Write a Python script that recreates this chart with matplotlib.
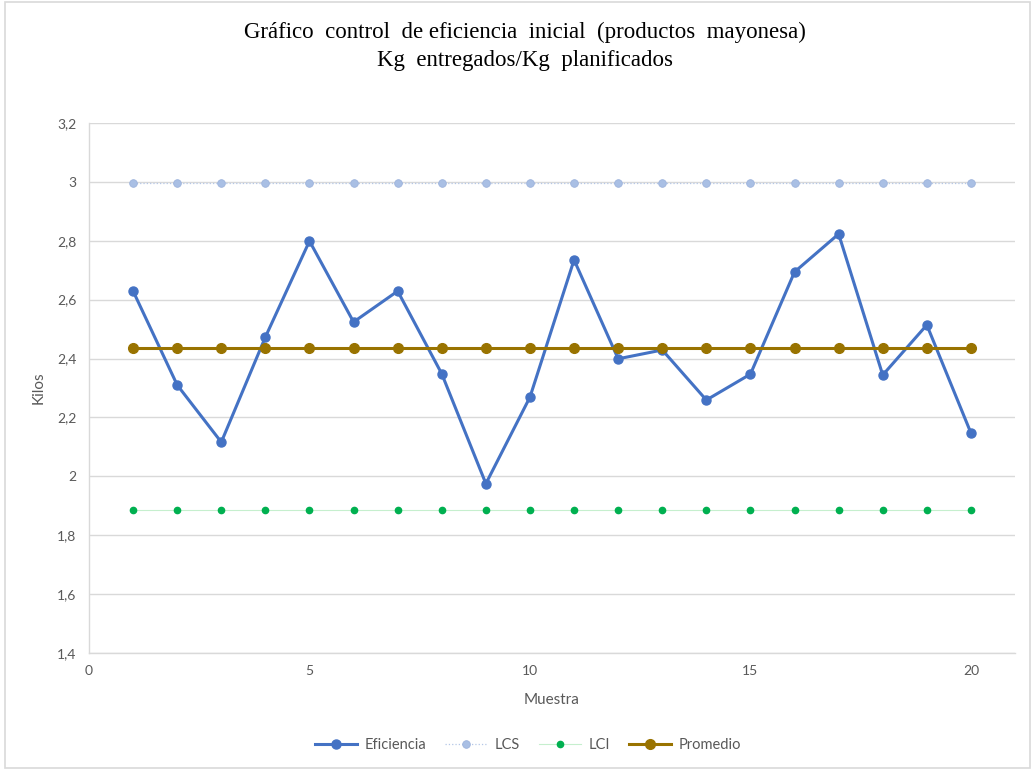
import matplotlib.pyplot as plt
from matplotlib.patches import Rectangle

# Sample numbers and measured efficiency (kg delivered / kg planned)
muestra = list(range(1, 21))
eficiencia = [2.629, 2.310, 2.116, 2.473, 2.799, 2.524, 2.629, 2.348, 1.975, 2.269,
              2.735, 2.399, 2.429, 2.259, 2.347, 2.694, 2.823, 2.344, 2.514, 2.147]
lcs_valor = 2.996
lci_valor = 1.886
promedio_valor = 2.437

lcs = [lcs_valor] * len(muestra)
lci = [lci_valor] * len(muestra)
promedio = [promedio_valor] * len(muestra)

y_ticks = [1.4, 1.6, 1.8, 2.0, 2.2, 2.4, 2.6, 2.8, 3.0, 3.2]
y_tick_labels = ["1,4", "1,6", "1,8", "2", "2,2", "2,4", "2,6", "2,8", "3", "3,2"]
x_ticks = [0, 5, 10, 15, 20]

sans = ["Lato", "DejaVu Sans"]
gris = "#595959"

fig = plt.figure(figsize=(10.35, 7.7), dpi=100)
ax = fig.add_axes([0.086, 0.152, 0.8947, 0.6883])

# Series
ax.plot(muestra, eficiencia, color="#4472C4", linewidth=2.2, marker="o",
        markersize=6.5, label="Eficiencia", zorder=3)
ax.plot(muestra, lcs, color="#B4C7E7", linewidth=0.9, linestyle=":", marker="o",
        markersize=5.5, markerfacecolor="#A9BFE4", markeredgecolor="#9DB3DC",
        markeredgewidth=0.6, label="LCS", zorder=3)
ax.plot(muestra, lci, color="#C6EFCE", linewidth=0.8, marker="o",
        markersize=4.5, markerfacecolor="#00B050", markeredgecolor="#00B050",
        label="LCI", zorder=3)
ax.plot(muestra, promedio, color="#997300", linewidth=2.2, marker="o",
        markersize=7, label="Promedio", zorder=4)

# Axes
ax.set_xlim(0, 21)
ax.set_ylim(1.4, 3.2)
ax.set_xticks(x_ticks)
ax.set_yticks(y_ticks)
ax.set_yticklabels(y_tick_labels)
ax.tick_params(axis="both", length=0, labelsize=10, labelcolor=gris, pad=9)
for lbl in ax.get_xticklabels() + ax.get_yticklabels():
    lbl.set_family(sans)
ax.grid(axis="y", color="#D9D9D9", linewidth=1)
ax.set_axisbelow(True)
for side in ["top", "right"]:
    ax.spines[side].set_visible(False)
for side in ["left", "bottom"]:
    ax.spines[side].set_color("#D9D9D9")
    ax.spines[side].set_linewidth(1)

ax.set_xlabel("Muestra", fontsize=11, color=gris, family=sans, labelpad=11)
ax.set_ylabel("Kilos", fontsize=11, color=gris, family=sans, labelpad=8)

# Title
fig.text(0.507, 0.958, "Gráfico  control  de eficiencia  inicial  (productos  mayonesa)",
         ha="center", va="center", fontsize=16.5, family="Liberation Serif")
fig.text(0.507, 0.921, "Kg  entregados/Kg  planificados",
         ha="center", va="center", fontsize=16.5, family="Liberation Serif")

# Legend
leg = fig.legend(loc="center", bbox_to_anchor=(0.51, 0.032), ncol=4, frameon=False,
                 prop={"family": sans, "size": 10.5}, handlelength=2.9,
                 columnspacing=1.3, handletextpad=0.5)
for txt in leg.get_texts():
    txt.set_color(gris)

# Chart frame
fig.patches.append(Rectangle((0.005, 0.002), 0.99, 0.996, transform=fig.transFigure,
                             fill=False, edgecolor="#D9D9D9", linewidth=1.2))

fig.savefig("out.png", dpi=100)
